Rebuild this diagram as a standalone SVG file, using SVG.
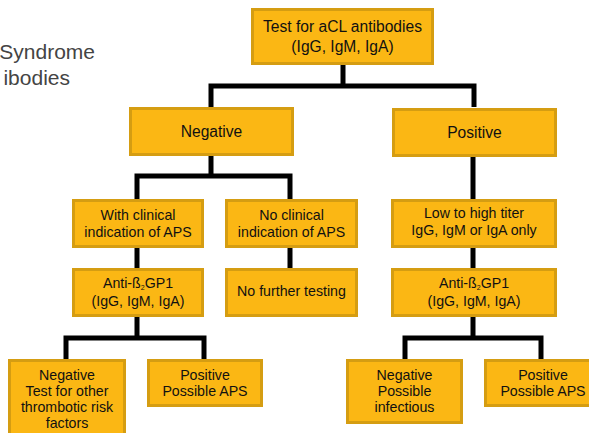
<svg xmlns="http://www.w3.org/2000/svg" width="589" height="433" viewBox="0 0 589 433">
<style>
.box{fill:#FBB714;stroke:#D59D12;stroke-width:3}
.t{font-family:"Liberation Sans",Arial,sans-serif;font-size:14.2px;fill:#111;text-anchor:middle}
.tl{font-size:15.6px}
.side{font-family:"Liberation Sans",Arial,sans-serif;font-size:21px;fill:#444;text-anchor:end}
.c{fill:none;stroke:#000;stroke-width:5;stroke-linejoin:miter;stroke-linecap:butt}
.sub{font-size:7px}
</style>
<rect width="589" height="433" fill="#fff"/>
<text class="side" x="95" y="59">Syndrome</text>
<text class="side" x="70" y="85">ibodies</text>
<g id="connectors">
<path class="c" d="M343 65V86M211 107V86H474V107"/>
<path class="c" d="M211 156V176M137 199V176H290V199"/>
<path class="c" d="M137 248V268M290 248V268"/>
<path class="c" d="M473 157V199M473 248V268"/>
<path class="c" d="M137 317V338M66 359V338H204V359"/>
<path class="c" d="M473 317V338M405 359V338H541V359"/>
</g>
<g id="n-top"><rect class="box" x="252.5" y="9.5" width="180" height="54"/>
<text class="t tl" x="342.5" y="32">Test for aCL antibodies</text>
<text class="t tl" x="342.5" y="52">(IgG, IgM, IgA)</text></g>
<g id="n-neg"><rect class="box" x="130.5" y="108.5" width="162" height="46"/>
<text class="t tl" x="211.5" y="137">Negative</text></g>
<g id="n-pos"><rect class="box" x="393.5" y="109.5" width="162" height="46"/>
<text class="t tl" x="474.5" y="138">Positive</text></g>
<g id="n-with"><rect class="box" x="73.5" y="200.5" width="129" height="46"/>
<text class="t" x="138" y="220">With clinical</text>
<text class="t" x="138" y="237">indication of APS</text></g>
<g id="n-noclin"><rect class="box" x="226.5" y="200.5" width="130" height="46"/>
<text class="t" x="291.5" y="220">No clinical</text>
<text class="t" x="291.5" y="237">indication of APS</text></g>
<g id="n-low"><rect class="box" x="392.5" y="200.5" width="163" height="46"/>
<text class="t" x="474" y="218">Low to high titer</text>
<text class="t" x="474" y="235">IgG, IgM or IgA only</text></g>
<g id="n-anti-l"><rect class="box" x="73.5" y="269.5" width="129" height="46"/>
<text class="t" x="138" y="288">Anti-ß<tspan class="sub" dy="2">2</tspan><tspan dy="-2">GP1</tspan></text>
<text class="t" x="138" y="306">(IgG, IgM, IgA)</text></g>
<g id="n-nofurther"><rect class="box" x="226.5" y="269.5" width="130" height="46"/>
<text class="t" x="291.5" y="296">No further testing</text></g>
<g id="n-anti-r"><rect class="box" x="392.5" y="269.5" width="163" height="46"/>
<text class="t" x="474" y="288">Anti-ß<tspan class="sub" dy="2">2</tspan><tspan dy="-2">GP1</tspan></text>
<text class="t" x="474" y="306">(IgG, IgM, IgA)</text></g>
<g id="n-neg-l"><rect class="box" x="9.5" y="360.5" width="115" height="84"/>
<text class="t" x="67" y="380">Negative</text>
<text class="t" x="67" y="396">Test for other</text>
<text class="t" x="67" y="412">thrombotic risk</text>
<text class="t" x="67" y="428">factors</text></g>
<g id="n-pos-l"><rect class="box" x="148.5" y="360.5" width="113" height="45"/>
<text class="t" x="205" y="380">Positive</text>
<text class="t" x="205" y="396">Possible APS</text></g>
<g id="n-neg-r"><rect class="box" x="347.5" y="360.5" width="114" height="62"/>
<text class="t" x="404.5" y="380">Negative</text>
<text class="t" x="404.5" y="396">Possible</text>
<text class="t" x="404.5" y="412">infectious</text></g>
<g id="n-pos-r"><rect class="box" x="485.5" y="360.5" width="115" height="45"/>
<text class="t" x="543" y="380">Positive</text>
<text class="t" x="543" y="396">Possible APS</text></g>
</svg>
